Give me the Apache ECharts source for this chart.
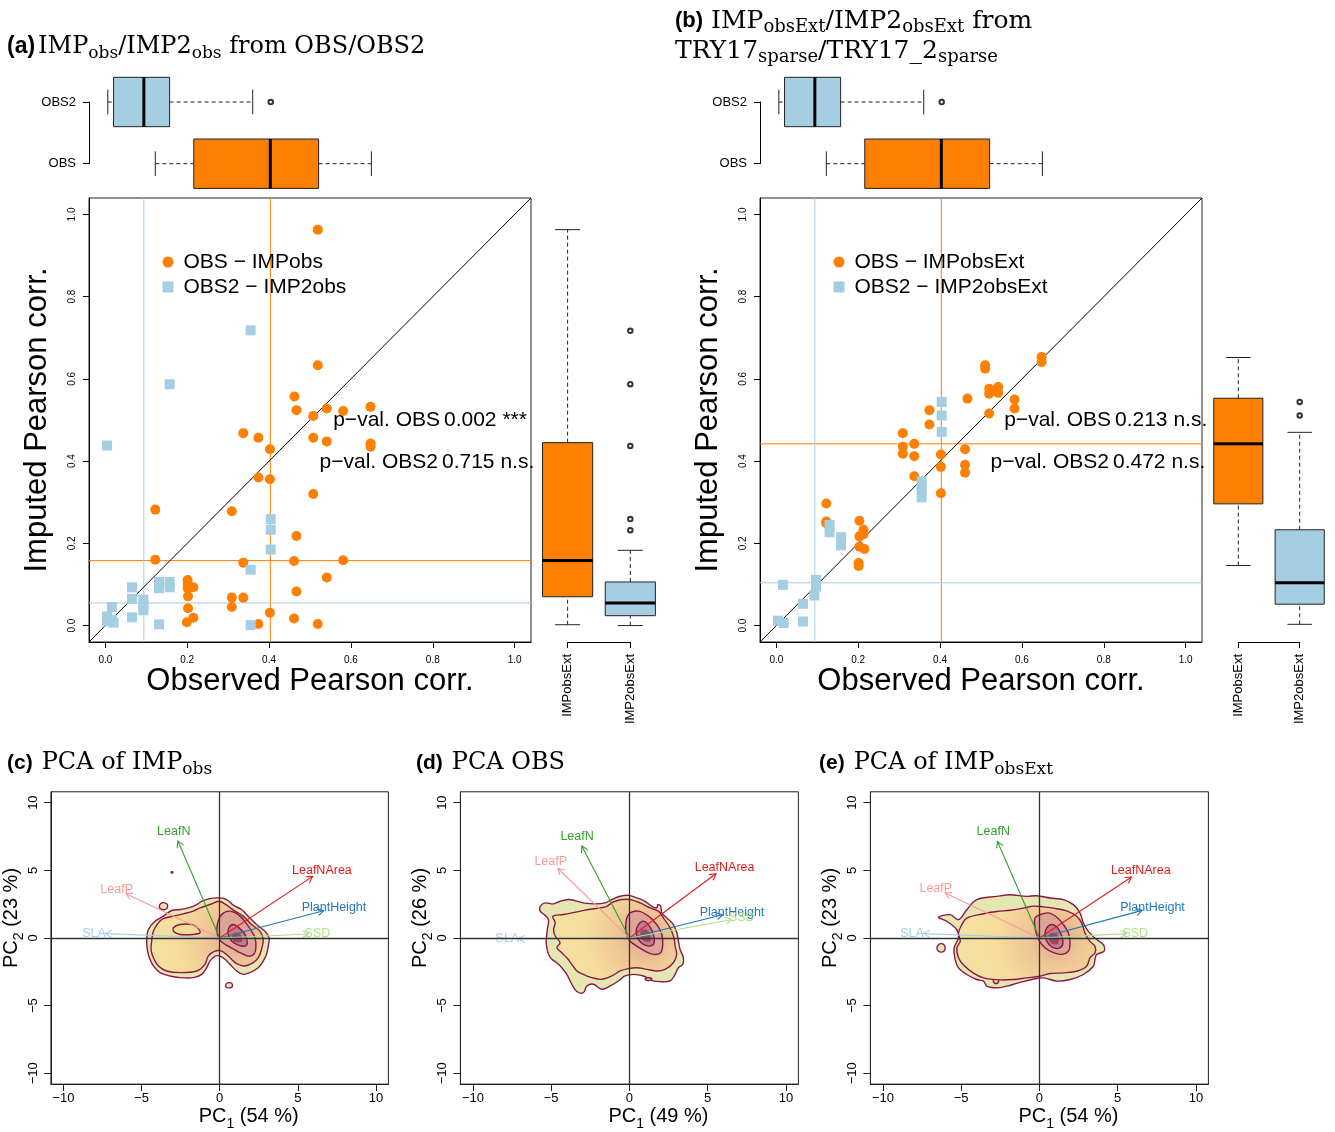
<!DOCTYPE html>
<html><head><meta charset="utf-8">
<script src="https://cdn.jsdelivr.net/npm/echarts@6/dist/echarts.min.js"></script>
<style>html,body{margin:0;padding:0;background:#fff}#c{width:1335px;height:1132px}</style>
</head><body><div id="c"></div>
<script>
// ================= DATA =================
// Panel (a): OBS vs IMPobs (orange) and OBS2 vs IMP2obs (blue)
const obsA     = [0.519,0.519,0.462,0.467,0.541,0.581,0.648,0.508,0.337,0.374,0.508,0.541,0.648,0.648,0.402,0.374,0.402,0.508,0.122,0.309,0.467,0.122,0.337,0.461,0.581,0.541,0.467,0.201,0.201,0.215,0.201,0.202,0.309,0.337,0.202,0.309,0.402,0.461,0.215,0.199,0.374,0.519];
const impObsA  = [0.963,0.633,0.557,0.524,0.528,0.522,0.532,0.510,0.468,0.457,0.457,0.448,0.443,0.435,0.429,0.360,0.356,0.320,0.282,0.278,0.218,0.160,0.153,0.157,0.159,0.117,0.083,0.111,0.101,0.093,0.091,0.071,0.068,0.068,0.042,0.045,0.031,0.017,0.019,0.008,0.004,0.004];
const obs2A    = [0.355,0.157,0.004,0.404,0.404,0.404,0.355,0.065,0.131,0.131,0.157,0.157,0.065,0.093,0.093,0.093,0.016,0.004,0.016,0.020,0.065,0.131,0.355,0.004];
const imp2ObsA = [0.718,0.587,0.438,0.259,0.233,0.185,0.136,0.093,0.106,0.091,0.106,0.093,0.065,0.063,0.050,0.037,0.045,0.022,0.014,0.007,0.020,0.003,0.001,0.010];
// Panel (b): OBS vs IMPobsExt (orange) and OBS2 vs IMP2obsExt (blue)
const obsB       = [0.648,0.648,0.510,0.510,0.520,0.520,0.542,0.542,0.467,0.582,0.582,0.520,0.374,0.374,0.309,0.309,0.309,0.337,0.337,0.337,0.402,0.402,0.402,0.461,0.461,0.461,0.122,0.122,0.122,0.203,0.203,0.203,0.213,0.213,0.215,0.201,0.201];
const impExtB    = [0.653,0.641,0.633,0.625,0.576,0.564,0.580,0.566,0.552,0.550,0.528,0.516,0.524,0.489,0.468,0.435,0.418,0.442,0.412,0.363,0.416,0.386,0.322,0.429,0.391,0.372,0.297,0.253,0.249,0.255,0.217,0.192,0.233,0.222,0.186,0.152,0.145];
const obs2B      = [0.404,0.404,0.404,0.355,0.355,0.355,0.130,0.130,0.158,0.158,0.016,0.097,0.097,0.093,0.065,0.065,0.004,0.018];
const imp2ExtB   = [0.544,0.511,0.471,0.351,0.330,0.312,0.245,0.227,0.215,0.195,0.099,0.111,0.095,0.073,0.053,0.010,0.012,0.006];
// Box-plot statistics [lower whisker, Q1, median, Q3, upper whisker]
const boxOBS        = [0.122,0.216,0.403,0.521,0.650];
const boxOBS2       = [0.006,0.020,0.094,0.157,0.360];
const outOBS2       = [0.404];
const boxIMPobs     = [0.002,0.070,0.158,0.445,0.963];
const boxIMP2obs    = [0.000,0.024,0.055,0.106,0.183];
const outIMP2obs    = [0.717,0.587,0.437,0.259,0.232];
const boxIMPobsExt  = [0.146,0.296,0.442,0.553,0.652];
const boxIMP2obsExt = [0.003,0.052,0.104,0.233,0.470];
const outIMP2obsExt = [0.544,0.511];
const corrTicks = [0,0.2,0.4,0.6,0.8,1.0];
const topBoxLabels = ['OBS','OBS2'];
const rightBoxLabels = ['IMPobsExt','IMP2obsExt'];
const pvalLabels = ['p\u2212val. OBS','p\u2212val. OBS2'];
const pvalA = ['0.002 ***','0.715 n.s.'];
const pvalB = ['0.213 n.s.','0.472 n.s.'];

// PCA loadings (arrow tips): LeafN, LeafNArea, LeafP, PlantHeight, SSD, SLA
const traitNames  = ['LeafN','LeafNArea','LeafP','PlantHeight','SSD','SLA'];
const traitColors = ['#33a02c','#e31a1c','#fb9a99','#1f78b4','#b2df8a','#a6cee3'];
const loadC = [[-2.67,7.17],[5.95,4.55],[-5.99,3.27],[6.65,2.01],[5.69,0.29],[-7.31,0.32]];
const loadD = [[-3.04,6.80],[5.53,4.74],[-4.57,5.15],[5.96,1.72],[6.53,1.35],[-7.09,-0.07]];
const loadE = [[-2.68,7.13],[5.89,4.50],[-6.02,3.32],[6.57,2.04],[5.57,0.32],[-7.40,0.32]];
const pcTicks = [-10,-5,0,5,10];
const varC = ['54','23'], varD = ['49','26'], varE = ['54','23'];

// Density contours (PC1, PC2)
const cOuter = [[-4.67,-0.11],[-4.56,0.63],[-4.14,1.24],[-3.60,1.61],[-3.07,2.03],[-2.54,2.10],[-2.01,2.22],[-1.47,2.47],[-1.15,2.71],[-0.62,2.91],[-0.02,2.96],[0.45,2.84],[0.87,2.42],[1.40,2.10],[1.83,1.61],[2.36,0.99],[2.90,0.50],[3.17,0.01],[3.11,-0.60],[3.00,-1.21],[2.79,-1.71],[2.47,-2.20],[1.94,-2.56],[1.51,-2.69],[1.09,-2.44],[0.66,-1.95],[0.34,-1.58],[0.02,-1.34],[-0.30,-1.34],[-0.62,-1.71],[-0.83,-2.20],[-1.15,-2.69],[-1.69,-2.93],[-2.54,-2.93],[-3.18,-2.81],[-3.82,-2.56],[-4.24,-2.07],[-4.50,-1.46],[-4.63,-0.85]];
const c95 = [[-4.35,-0.23],[-4.24,0.50],[-3.71,1.36],[-2.96,1.61],[-2.33,1.78],[-1.69,1.98],[-1.26,2.22],[-0.62,2.47],[-0.02,2.71],[0.45,2.42],[0.98,1.98],[1.51,1.61],[2.04,0.99],[2.58,0.50],[2.79,-0.11],[2.68,-0.85],[2.47,-1.46],[2.15,-1.83],[1.62,-2.07],[1.09,-1.90],[0.55,-1.34],[0.13,-0.97],[-0.30,-0.97],[-0.73,-1.34],[-0.94,-1.95],[-1.47,-2.44],[-2.54,-2.56],[-3.39,-2.44],[-3.92,-2.07],[-4.24,-1.46],[-4.39,-0.85]];
const cIsland = [[-2.96,0.75],[-2.54,0.99],[-1.79,0.99],[-1.37,0.70],[-1.26,0.38],[-1.69,0.26],[-2.54,0.26],[-2.92,0.45]];
const cLoopTop = [[-3.86,2.34],[-3.77,2.54],[-3.60,2.61],[-3.39,2.52],[-3.33,2.32],[-3.45,2.12],[-3.67,2.10],[-3.82,2.20]];
const cLoopBot = [[0.38,-3.50],[0.49,-3.33],[0.66,-3.30],[0.81,-3.42],[0.79,-3.62],[0.62,-3.69],[0.42,-3.64]];
const c50 = [[-0.15,0.99],[0.13,1.73],[0.66,1.98],[1.30,1.61],[1.83,0.87],[2.26,0.01],[2.32,-0.72],[2.19,-1.21],[1.83,-1.34],[1.19,-1.02],[0.55,-0.60],[0.06,-0.23],[-0.15,0.26]];
const c20 = [[0.59,0.75],[0.87,0.99],[1.19,0.80],[1.62,0.26],[1.77,-0.36],[1.62,-0.60],[1.19,-0.53],[0.77,-0.23],[0.55,0.26]];
const cCore = [[0.85,0.30],[1.20,0.35],[1.45,0.00],[1.40,-0.30],[1.00,-0.30],[0.80,-0.05]];
const cDot = [[-3.15,4.90],[-3.00,4.95],[-2.95,4.80],[-3.10,4.75]];

const dOuter = [[-5.70,2.34],[-5.38,2.59],[-4.85,2.52],[-4.43,2.71],[-3.89,2.84],[-3.47,2.76],[-2.94,2.59],[-2.19,2.52],[-1.55,2.59],[-1.13,2.84],[-0.59,3.08],[-0.06,3.15],[0.47,2.96],[1.00,2.71],[1.43,2.34],[1.75,2.22],[1.81,2.47],[2.00,2.34],[2.07,1.85],[2.39,1.48],[2.81,0.99],[3.03,0.38],[3.13,-0.23],[3.24,-0.85],[3.45,-1.46],[3.41,-1.95],[3.13,-2.20],[2.92,-2.69],[2.60,-3.18],[1.96,-3.23],[1.43,-3.13],[0.90,-2.81],[0.26,-2.69],[-0.28,-2.81],[-0.70,-3.18],[-1.23,-3.55],[-1.77,-3.79],[-2.30,-3.42],[-2.72,-3.55],[-2.94,-4.04],[-3.36,-3.96],[-3.68,-3.42],[-4.00,-2.69],[-4.32,-2.20],[-4.64,-1.83],[-4.96,-1.58],[-5.17,-1.21],[-5.28,-0.72],[-5.32,-0.23],[-5.28,0.26],[-5.23,0.75],[-5.17,1.36],[-5.45,1.73],[-5.70,1.98]];
const d95 = [[-4.89,1.61],[-4.21,1.73],[-3.36,1.93],[-2.62,2.10],[-1.87,2.22],[-1.45,2.34],[-1.02,2.66],[-0.49,2.84],[0.04,2.84],[0.68,2.59],[1.32,2.22],[1.85,1.98],[2.17,1.48],[2.60,0.75],[2.85,0.01],[2.92,-0.60],[3.02,-1.21],[2.81,-1.83],[2.28,-2.32],[1.75,-2.44],[1.11,-2.32],[0.47,-2.20],[-0.06,-2.27],[-0.59,-2.44],[-1.13,-2.81],[-1.77,-3.06],[-2.40,-2.93],[-2.94,-2.69],[-3.36,-2.44],[-3.68,-1.95],[-4.00,-1.46],[-4.32,-1.09],[-4.64,-0.72],[-4.43,-0.36],[-4.74,0.14],[-4.85,0.63],[-4.74,1.12]];
const d50 = [[-0.17,1.48],[0.04,1.85],[0.58,1.98],[1.22,1.61],[1.75,0.99],[2.07,0.26],[2.13,-0.48],[2.00,-1.09],[1.53,-1.21],[1.00,-0.97],[0.47,-0.60],[0.04,-0.23],[-0.21,0.38],[-0.23,0.99]];
const d20 = [[0.58,0.99],[0.90,1.24],[1.28,0.87],[1.53,0.26],[1.58,-0.36],[1.32,-0.60],[0.90,-0.48],[0.58,-0.11],[0.43,0.50]];
const dCore = [[0.75,0.55],[1.10,0.60],[1.35,0.15],[1.30,-0.25],[0.90,-0.20],[0.70,0.15]];
const dLoop = [[1.00,-3.02],[1.20,-2.94],[1.42,-3.00],[1.36,-3.12],[1.10,-3.13]];

const eOuter = [[-6.45,1.52],[-5.70,1.72],[-5.17,1.35],[-4.64,2.09],[-4.00,2.83],[-2.72,3.07],[-1.87,3.19],[-0.81,3.07],[-0.17,3.12],[0.68,2.95],[1.53,2.83],[2.17,2.46],[2.60,1.84],[2.81,1.11],[3.13,0.49],[3.66,-0.12],[4.09,-0.49],[4.13,-0.98],[3.66,-1.23],[3.55,-1.60],[3.45,-2.09],[2.81,-2.70],[1.96,-3.07],[1.11,-3.19],[0.26,-2.95],[-0.49,-3.07],[-1.34,-3.32],[-2.09,-3.56],[-2.72,-3.69],[-3.36,-3.56],[-3.57,-3.19],[-4.00,-3.07],[-4.64,-2.70],[-5.17,-2.21],[-5.38,-1.60],[-5.45,-0.74],[-5.17,0.00],[-5.28,0.61],[-5.91,1.23]];
const e95 = [[-4.64,1.47],[-3.57,1.79],[-2.72,1.95],[-1.87,2.05],[-1.02,2.20],[-0.38,2.35],[0.26,2.30],[0.89,2.20],[1.74,2.00],[2.38,1.60],[2.70,1.11],[2.91,0.37],[3.23,-0.25],[3.55,-0.61],[3.55,-1.11],[3.23,-1.47],[3.02,-2.09],[2.38,-2.46],[1.53,-2.58],[0.68,-2.63],[0.04,-2.83],[-0.81,-2.95],[-1.66,-3.07],[-2.51,-3.10],[-3.57,-2.95],[-4.21,-2.60],[-4.85,-2.00],[-5.17,-1.47],[-5.28,-0.74],[-5.06,-0.25],[-5.17,0.37],[-4.96,0.98]];
const e50 = [[-0.28,1.49],[0.04,1.73],[0.58,1.85],[1.11,1.53],[1.53,0.99],[1.85,0.38],[1.96,-0.36],[1.85,-0.97],[1.43,-1.21],[0.90,-1.09],[0.36,-0.72],[0.00,-0.23],[-0.21,0.38],[-0.30,0.99]];
const e20 = [[0.47,0.75],[0.79,0.99],[1.15,0.75],[1.43,0.14],[1.49,-0.48],[1.22,-0.77],[0.79,-0.67],[0.47,-0.23],[0.36,0.26]];
const eCore = [[0.65,0.30],[1.05,0.35],[1.25,-0.10],[1.15,-0.45],[0.75,-0.40],[0.60,-0.05]];
const eLoopL = [[-6.55,-0.74],[-6.45,-0.50],[-6.28,-0.42],[-6.10,-0.50],[-6.02,-0.74],[-6.10,-0.98],[-6.28,-1.05],[-6.45,-0.98]];
const eLoopB = [[-2.95,-3.19],[-2.88,-3.05],[-2.77,-3.00],[-2.65,-3.05],[-2.60,-3.19],[-2.66,-3.32],[-2.77,-3.37],[-2.88,-3.32]];
const densityPeak = [1.0, 0.0];

// ================= STYLE / LAYOUT =================
const FONT = '"Liberation Sans", Arial, Helvetica, sans-serif';
const SERIF = '"DejaVu Serif", "Liberation Serif", serif';
const ORANGE = '#ff7f00', LBLUE = '#a6cee3';
const LINE = '#8a1846';
const CORR_MIN = -0.04, CORR_MAX = 1.04;

const zip = (a, b) => a.map((v, i) => [v, b[i]]);

function corrX(gi) {
  return { gridIndex: gi, type: 'value', min: CORR_MIN, max: CORR_MAX,
    axisLine: { show: true, onZero: false, lineStyle: { color: '#000', width: 1 } },
    axisTick: { show: true, length: 6, customValues: corrTicks, lineStyle: { color: '#000' } },
    axisLabel: { show: true, customValues: corrTicks, formatter: v => v.toFixed(1), fontSize: 10, margin: 13, color: '#000', fontFamily: FONT },
    splitLine: { show: false },
    name: 'Observed Pearson corr.', nameLocation: 'middle', nameGap: 22,
    nameTextStyle: { fontSize: 31, color: '#000', fontFamily: FONT } };
}
function corrY(gi) {
  return { gridIndex: gi, type: 'value', min: CORR_MIN, max: CORR_MAX,
    axisLine: { show: true, onZero: false, lineStyle: { color: '#000', width: 1 } },
    axisTick: { show: true, length: 6, customValues: corrTicks, lineStyle: { color: '#000' } },
    axisLabel: { show: true, customValues: corrTicks, rotate: 90, formatter: v => v.toFixed(1), fontSize: 10, margin: 12, color: '#000', fontFamily: FONT },
    splitLine: { show: false },
    name: 'Imputed Pearson corr.', nameLocation: 'middle', nameGap: 36,
    nameTextStyle: { fontSize: 31, color: '#000', fontFamily: FONT } };
}
function hiddenAxis(gi, min, max) {
  return { gridIndex: gi, type: 'value', min, max, show: false, splitLine: { show: false } };
}
function bracketAxis(gi, labels, rotate, margin) {
  return { gridIndex: gi, type: 'value', min: 1, max: 2,
    axisLine: { show: true, onZero: false, lineStyle: { color: '#000', width: 1 } },
    axisTick: { show: true, length: 6, customValues: [1, 2], lineStyle: { color: '#000' } },
    axisLabel: { show: true, customValues: [1, 2], rotate, formatter: v => labels[Math.round(v) - 1], fontSize: 13, margin, color: '#000', fontFamily: FONT },
    splitLine: { show: false } };
}
const subRich = {
  t: { fontFamily: FONT, fontSize: 20, lineHeight: 30, color: '#000' },
  s: { fontFamily: FONT, fontSize: 14, lineHeight: 14, verticalAlign: 'bottom', color: '#000' }
};
function pcX(gi, pct) {
  return { gridIndex: gi, type: 'value', min: -10.8, max: 10.8,
    axisLine: { show: true, onZero: false, lineStyle: { color: '#222' } },
    axisTick: { show: true, length: 7, customValues: pcTicks, lineStyle: { color: '#222' } },
    axisLabel: { show: true, customValues: pcTicks, formatter: v => (v < 0 ? '\u2212' + (-v) : '' + v), fontSize: 13, margin: 8, color: '#000', fontFamily: FONT },
    splitLine: { show: false },
    name: '{t|PC}{s|1}{t| (' + pct + ' %)}', nameLocation: 'middle', nameGap: 14,
    nameTextStyle: { rich: subRich, padding: [0, 0, 0, 58] } };
}
function pcY(gi, pct) {
  return { gridIndex: gi, type: 'value', min: -10.8, max: 10.8,
    axisLine: { show: true, onZero: false, lineStyle: { color: '#222' } },
    axisTick: { show: true, length: 7, customValues: pcTicks, lineStyle: { color: '#222' } },
    axisLabel: { show: true, customValues: pcTicks, rotate: 90, formatter: v => (v < 0 ? '\u2212' + (-v) : '' + v), fontSize: 13, margin: 11, color: '#000', fontFamily: FONT },
    splitLine: { show: false },
    name: '{t|PC}{s|2}{t| (' + pct + ' %)}', nameLocation: 'middle', nameGap: 22,
    nameTextStyle: { rich: subRich, padding: [0, 0, 0, 40] } };
}

// box plot drawn through the axes' scales
function boxSeries(gi, horizontal, boxes, colors) {
  return { type: 'custom', xAxisIndex: gi, yAxisIndex: gi, silent: true, clip: false,
    data: boxes.map((b, i) => [i + 1].concat(b)),
    encode: horizontal ? { x: 3, y: 0 } : { x: 0, y: 3 },
    renderItem: (params, api) => {
      const p = api.value(0), lo = api.value(1), q1 = api.value(2), md = api.value(3), q3 = api.value(4), hi = api.value(5);
      const at = v => horizontal ? api.coord([v, p]) : api.coord([p, v]);
      const half = horizontal ? api.size([0, 0.4])[1] : api.size([0.4, 0])[0];
      const cap = half / 2;
      const seg = (v1, d1, v2, d2) => {
        const a = at(v1), b = at(v2);
        return horizontal ? { x1: a[0], y1: a[1] + d1, x2: b[0], y2: b[1] + d2 } : { x1: a[0] + d1, y1: a[1], x2: b[0] + d2, y2: b[1] };
      };
      const A = at(q1), B = at(q3);
      const rect = horizontal ? { x: A[0], y: A[1] - half, width: B[0] - A[0], height: 2 * half }
                              : { x: B[0] - half, y: B[1], width: 2 * half, height: A[1] - B[1] };
      const ls = { stroke: '#222', lineWidth: 1 };
      return { type: 'group', children: [
        { type: 'line', shape: seg(lo, 0, q1, 0), style: { stroke: '#222', lineWidth: 1, lineDash: [4, 3] } },
        { type: 'line', shape: seg(q3, 0, hi, 0), style: { stroke: '#222', lineWidth: 1, lineDash: [4, 3] } },
        { type: 'line', shape: seg(lo, -cap, lo, cap), style: ls },
        { type: 'line', shape: seg(hi, -cap, hi, cap), style: ls },
        { type: 'rect', shape: rect, style: { fill: colors[params.dataIndex], stroke: '#222', lineWidth: 1 } },
        { type: 'line', shape: seg(md, -half, md, half), style: { stroke: '#000', lineWidth: 3 } }
      ] };
    } };
}
function outlierSeries(gi, pts) {
  return { type: 'scatter', xAxisIndex: gi, yAxisIndex: gi, silent: true, symbol: 'emptyCircle', symbolSize: 4.5,
    itemStyle: { color: '#000', borderColor: '#000', borderWidth: 1 }, data: pts };
}
// reference lines: kind 0 = vertical at value, 1 = horizontal at value, 2 = 1:1 diagonal
const REF_COLORS = [ORANGE, LBLUE, '#000'];
function refLineSeries(gi, items) {
  return { type: 'custom', xAxisIndex: gi, yAxisIndex: gi, silent: true, clip: true, z: 1,
    data: items, encode: { x: 1, y: 1 },
    renderItem: (params, api) => {
      const kind = api.value(0), v = api.value(1), col = REF_COLORS[api.value(2)];
      const cs = params.coordSys;
      let shape;
      if (kind === 0) { const x = api.coord([v, 0])[0]; shape = { x1: x, y1: cs.y, x2: x, y2: cs.y + cs.height }; }
      else if (kind === 1) { const y = api.coord([0, v])[1]; shape = { x1: cs.x, y1: y, x2: cs.x + cs.width, y2: y }; }
      else { const a = api.coord([CORR_MIN, CORR_MIN]), b = api.coord([CORR_MAX, CORR_MAX]); shape = { x1: a[0], y1: a[1], x2: b[0], y2: b[1] }; }
      return { type: 'line', shape, style: { stroke: col, lineWidth: 1 } };
    } };
}

// contour polygons
const KIND = [
  { fill: '#e6e6b3', stroke: LINE }, // 0 outermost band
  { fill: 'grad', stroke: LINE },    // 1 0.95 level
  { fill: '#f2da98', stroke: LINE }, // 2 island
  { fill: '#dca697', stroke: LINE }, // 3 0.5 level
  { fill: '#c07c8a', stroke: LINE }, // 4 0.2 level
  { fill: '#984866', stroke: null }, // 5 core
  { fill: '#e6e6b3', stroke: LINE }, // 6 small loop
  { fill: LINE, stroke: null }       // 7 dot
];
function contourSeries(gi, polys, kinds) {
  return { type: 'custom', xAxisIndex: gi, yAxisIndex: gi, silent: true, clip: true,
    data: polys.map((p, i) => [0, 0, i]), encode: { x: 0, y: 1 },
    renderItem: (params, api) => {
      const i = api.value(2);
      const pts = polys[i].map(q => api.coord(q));
      const k = KIND[kinds[i]];
      let fill = k.fill;
      if (fill === 'grad') {
        const c = api.coord(densityPeak);
        fill = new echarts.graphic.RadialGradient(c[0], c[1], 110, [
          { offset: 0, color: '#dea294' }, { offset: 0.25, color: '#efc695' },
          { offset: 0.55, color: '#f5dd9c' }, { offset: 1, color: '#f1e4a6' }], true);
      }
      return { type: 'polygon', shape: { points: pts, smooth: 0.35 },
        style: { fill, stroke: k.stroke || 'none', lineWidth: k.stroke ? 1.4 : 0 } };
    } };
}
function arrowSeries(gi, loads) {
  return { type: 'custom', xAxisIndex: gi, yAxisIndex: gi, silent: true, clip: false,
    data: loads.map((l, i) => [l[0], l[1], i]), encode: { x: 0, y: 1 },
    renderItem: (params, api) => {
      const x = api.value(0), y = api.value(1), i = api.value(2);
      const o = api.coord([0, 0]), e = api.coord([x, y]), lp = api.coord([1.1 * x, 1.1 * y]);
      const ang = Math.atan2(e[1] - o[1], e[0] - o[0]), L = 7, W = Math.PI / 6;
      const h1 = [e[0] - L * Math.cos(ang - W), e[1] - L * Math.sin(ang - W)];
      const h2 = [e[0] - L * Math.cos(ang + W), e[1] - L * Math.sin(ang + W)];
      const col = traitColors[i];
      return { type: 'group', children: [
        { type: 'line', shape: { x1: o[0], y1: o[1], x2: e[0], y2: e[1] }, style: { stroke: col, lineWidth: 1.1 } },
        { type: 'polyline', shape: { points: [h1, e, h2] }, style: { stroke: col, lineWidth: 1.1, fill: 'none' } },
        { type: 'text', x: lp[0], y: lp[1], style: { text: traitNames[i], fill: col, fontSize: 12.5, fontFamily: FONT, align: 'center', verticalAlign: 'middle' } }
      ] };
    },
    markLine: { silent: true, symbol: ['none', 'none'], label: { show: false }, animation: false,
      lineStyle: { color: '#333', width: 1.3, type: 'solid' }, data: [{ xAxis: 0 }, { yAxis: 0 }] } };
}

// ================= OPTION =================
const grids = [
  { left: 89, top: 198, width: 442, height: 444 },     // 0 a scatter
  { left: 89, top: 102, width: 442, height: 61.7 },    // 1 a top boxes
  { left: 567.6, top: 198, width: 62.7, height: 444 }, // 2 a right boxes
  { left: 760, top: 198, width: 442, height: 444 },    // 3 b scatter
  { left: 760, top: 102, width: 442, height: 61.7 },   // 4 b top boxes
  { left: 1238.3, top: 198, width: 61.4, height: 444 },// 5 b right boxes
  { left: 50.4, top: 791.8, width: 338, height: 293.4 },  // 6 c
  { left: 460.4, top: 791.8, width: 338, height: 293.4 }, // 7 d
  { left: 870.4, top: 791.8, width: 338, height: 293.4 }  // 8 e
].map((g, i) => Object.assign({ containLabel: false, show: [0, 3, 6, 7, 8].includes(i), borderColor: '#222', borderWidth: 1, backgroundColor: 'transparent' }, g));

const xAxes = [corrX(0), hiddenAxis(1, CORR_MIN, CORR_MAX), bracketAxis(2, rightBoxLabels, 90, 12),
               corrX(3), hiddenAxis(4, CORR_MIN, CORR_MAX), bracketAxis(5, rightBoxLabels, 90, 12),
               pcX(6, varC[0]), pcX(7, varD[0]), pcX(8, varE[0])];
const yAxes = [corrY(0), bracketAxis(1, topBoxLabels, 0, 13), hiddenAxis(2, CORR_MIN, CORR_MAX),
               corrY(3), bracketAxis(4, topBoxLabels, 0, 13), hiddenAxis(5, CORR_MIN, CORR_MAX),
               pcY(6, varC[1]), pcY(7, varD[1]), pcY(8, varE[1])];

const richFor = (bSize, gap, tSize, sSize) => ({
  b: { fontFamily: FONT, fontWeight: 'bold', fontSize: bSize, lineHeight: 30, color: '#000', padding: [0, gap, 0, 0] },
  t: { fontFamily: SERIF, fontWeight: 'normal', fontSize: tSize, lineHeight: 30, color: '#000' },
  s: { fontFamily: SERIF, fontWeight: 'normal', fontSize: sSize, lineHeight: 15, verticalAlign: 'bottom', color: '#000' }
});
const mkTitle = (left, top, text, rich) => ({ left, top, text, padding: 0, textStyle: { fontWeight: 'normal', rich } });

const series = [
  refLineSeries(0, [[0, boxOBS[2], 0], [1, boxIMPobs[2], 0], [0, boxOBS2[2], 1], [1, boxIMP2obs[2], 1], [2, 0, 2]]),
  { name: 'OBS \u2212 IMPobs', type: 'scatter', xAxisIndex: 0, yAxisIndex: 0, symbol: 'circle', symbolSize: 10,
    itemStyle: { color: ORANGE, opacity: 1 }, data: zip(obsA, impObsA), z: 3 },
  { name: 'OBS2 \u2212 IMP2obs', type: 'scatter', xAxisIndex: 0, yAxisIndex: 0, symbol: 'rect', symbolSize: 10,
    itemStyle: { color: LBLUE, opacity: 1 }, data: zip(obs2A, imp2ObsA), z: 3 },
  boxSeries(1, true, [boxOBS, boxOBS2], [ORANGE, LBLUE]),
  outlierSeries(1, outOBS2.map(v => [v, 2])),
  boxSeries(2, false, [boxIMPobs, boxIMP2obs], [ORANGE, LBLUE]),
  outlierSeries(2, outIMP2obs.map(v => [2, v])),

  refLineSeries(3, [[0, boxOBS[2], 0], [1, boxIMPobsExt[2], 0], [0, boxOBS2[2], 1], [1, boxIMP2obsExt[2], 1], [2, 0, 2]]),
  { name: 'OBS \u2212 IMPobsExt', type: 'scatter', xAxisIndex: 3, yAxisIndex: 3, symbol: 'circle', symbolSize: 10,
    itemStyle: { color: ORANGE, opacity: 1 }, data: zip(obsB, impExtB), z: 3 },
  { name: 'OBS2 \u2212 IMP2obsExt', type: 'scatter', xAxisIndex: 3, yAxisIndex: 3, symbol: 'rect', symbolSize: 10,
    itemStyle: { color: LBLUE, opacity: 1 }, data: zip(obs2B, imp2ExtB), z: 3 },
  boxSeries(4, true, [boxOBS, boxOBS2], [ORANGE, LBLUE]),
  outlierSeries(4, outOBS2.map(v => [v, 2])),
  boxSeries(5, false, [boxIMPobsExt, boxIMP2obsExt], [ORANGE, LBLUE]),
  outlierSeries(5, outIMP2obsExt.map(v => [2, v])),

  contourSeries(6, [cOuter, cLoopTop, cLoopBot, c95, cIsland, c50, c20, cCore, cDot], [0, 6, 6, 1, 2, 3, 4, 5, 7]),
  arrowSeries(6, loadC),
  contourSeries(7, [dOuter, dLoop, d95, d50, d20, dCore], [0, 6, 1, 3, 4, 5]),
  arrowSeries(7, loadD),
  contourSeries(8, [eOuter, eLoopL, eLoopB, e95, e50, e20, eCore], [0, 6, 6, 1, 3, 4, 5]),
  arrowSeries(8, loadE)
];

const legendBase = { orient: 'vertical', itemGap: 4, itemWidth: 11, itemHeight: 11, selectedMode: false,
  textStyle: { fontSize: 21, fontFamily: FONT, color: '#000', padding: [0, 0, 0, 5] } };

const pvText = (x, y, lab, val) => [
  { type: 'text', x: x, y: y, silent: true, style: { text: lab, fontSize: 21, fontFamily: FONT, fill: '#000', align: 'right', verticalAlign: 'middle' } },
  { type: 'text', x: x + 4, y: y, silent: true, style: { text: val, fontSize: 21, fontFamily: FONT, fill: '#000', align: 'left', verticalAlign: 'middle' } }
];

const option = {
  animation: false,
  backgroundColor: '#fff',
  textStyle: { fontFamily: FONT },
  title: [
    mkTitle(7, 32, '{b|(a)}{t|IMP}{s|obs}{t|/IMP2}{s|obs}{t| from OBS/OBS2}', richFor(23, 3, 24, 17)),
    mkTitle(675, 6, '{b|(b)}{t|IMP}{s|obsExt}{t|/IMP2}{s|obsExt}{t| from}\n{t|TRY17}{s|sparse}{t|/TRY17_2}{s|sparse}', richFor(22, 8, 25, 18)),
    mkTitle(7, 748, '{b|(c)}{t|PCA of IMP}{s|obs}', richFor(21, 9, 24, 17)),
    mkTitle(416, 748, '{b|(d)}{t|PCA OBS}', richFor(21, 9, 24, 17)),
    mkTitle(819, 748, '{b|(e)}{t|PCA of IMP}{s|obsExt}', richFor(21, 9, 24, 17))
  ],
  legend: [
    Object.assign({ left: 157.5, top: 246.5, data: [{ name: 'OBS \u2212 IMPobs', icon: 'circle' }, { name: 'OBS2 \u2212 IMP2obs', icon: 'rect' }] }, legendBase),
    Object.assign({ left: 828.5, top: 246.5, data: [{ name: 'OBS \u2212 IMPobsExt', icon: 'circle' }, { name: 'OBS2 \u2212 IMP2obsExt', icon: 'rect' }] }, legendBase)
  ],
  graphic: [].concat(
    pvText(440, 420, pvalLabels[0], pvalA[0]), pvText(438, 462, pvalLabels[1], pvalA[1]),
    pvText(1111, 420, pvalLabels[0], pvalB[0]), pvText(1109, 462, pvalLabels[1], pvalB[1])
  ),
  grid: grids,
  xAxis: xAxes,
  yAxis: yAxes,
  series
};

const chart = echarts.init(document.getElementById('c'), null, { renderer: 'canvas' });
chart.setOption(option);
</script></body></html>
